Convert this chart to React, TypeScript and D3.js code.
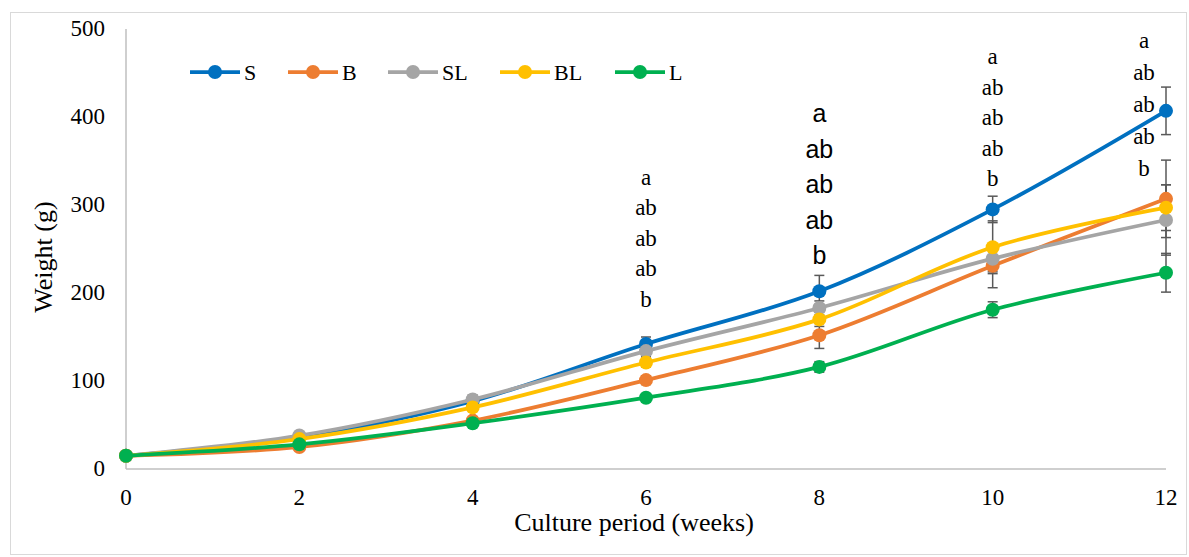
import React, { useEffect, useRef } from 'react';
import * as d3 from 'd3';

const weeks = [0, 2, 4, 6, 8, 10, 12];
const seriesNames = ['S', 'B', 'SL', 'BL', 'L'];
const seriesColors = ['#0070C0', '#ED7D31', '#A5A5A5', '#FFC000', '#00B050'];
const sValues = [15, 36, 77, 142, 202, 295, 407];
const bValues = [15, 25, 55, 101, 152, 231, 307];
const slValues = [15, 38, 79, 134, 183, 239, 283];
const blValues = [15, 34, 70, 121, 170, 252, 297];
const lValues = [15, 28, 52, 81, 116, 181, 223];
const sErr = [0, 2, 3, 8, 18, 15, 27];
const bErr = [0, 2, 3, 5, 15, 25, 44];
const slErr = [0, 3, 5, 6, 8, 15, 40];
const blErr = [0, 2, 4, 5, 8, 30, 26];
const lErr = [0, 2, 3, 4, 6, 9, 22];
const yTicks = [0, 100, 200, 300, 400, 500];

// significance letters per week (top to bottom)
const letterWeeks = [6, 8, 10, 12];
const letterSets = [
  ['a', 'ab', 'ab', 'ab', 'b'],
  ['a', 'ab', 'ab', 'ab', 'b'],
  ['a', 'ab', 'ab', 'ab', 'b'],
  ['a', 'ab', 'ab', 'ab', 'b'],
];
const letterTopValues = [332, 404, 469, 488];

const App = () => {
  const ref = useRef<SVGSVGElement>(null);

  useEffect(() => {
    const svg = d3.select(ref.current);
    svg.selectAll('*').remove();

    const left = 126;
    const right = 1166;
    const top = 29;
    const bottom = 469;

    const x = d3.scaleLinear().domain([0, 12]).range([left, right]);
    const y = d3.scaleLinear().domain([0, 500]).range([bottom, top]);

    const serif = '"Liberation Serif", "Times New Roman", serif';

    // outer border
    svg
      .append('rect')
      .attr('x', 10.5)
      .attr('y', 12.5)
      .attr('width', 1176)
      .attr('height', 542)
      .attr('fill', 'white')
      .attr('stroke', '#d9d9d9');

    // axes lines
    svg
      .append('line')
      .attr('x1', left)
      .attr('x2', left)
      .attr('y1', top)
      .attr('y2', bottom)
      .attr('stroke', '#bfbfbf')
      .attr('stroke-width', 1.5);
    svg
      .append('line')
      .attr('x1', left)
      .attr('x2', right)
      .attr('y1', bottom)
      .attr('y2', bottom)
      .attr('stroke', '#bfbfbf')
      .attr('stroke-width', 1.5);

    // tick labels
    svg
      .selectAll('.ytick')
      .data(yTicks)
      .enter()
      .append('text')
      .attr('x', 105)
      .attr('y', (d) => y(d) + 7)
      .attr('text-anchor', 'end')
      .style('font-family', serif)
      .style('font-size', '23px')
      .text((d) => d);

    svg
      .selectAll('.xtick')
      .data(weeks)
      .enter()
      .append('text')
      .attr('x', (d) => x(d))
      .attr('y', 505)
      .attr('text-anchor', 'middle')
      .style('font-family', serif)
      .style('font-size', '23px')
      .text((d) => d);

    svg
      .append('text')
      .attr('x', 634)
      .attr('y', 531)
      .attr('text-anchor', 'middle')
      .style('font-family', serif)
      .style('font-size', '26px')
      .text('Culture period (weeks)');

    svg
      .append('text')
      .attr('transform', `translate(52, 257) rotate(-90)`)
      .attr('text-anchor', 'middle')
      .style('font-family', serif)
      .style('font-size', '26px')
      .text('Weight (g)');

    const values = [sValues, bValues, slValues, blValues, lValues];
    const errors = [sErr, bErr, slErr, blErr, lErr];

    // error bars
    values.forEach((vals, si) => {
      vals.forEach((v, i) => {
        const e = errors[si][i];
        if (e <= 0) return;
        const cx = x(weeks[i]);
        const g = svg.append('g').attr('stroke', '#595959').attr('stroke-width', 1.5);
        g.append('line').attr('x1', cx).attr('x2', cx).attr('y1', y(v - e)).attr('y2', y(v + e));
        g.append('line').attr('x1', cx - 5).attr('x2', cx + 5).attr('y1', y(v - e)).attr('y2', y(v - e));
        g.append('line').attr('x1', cx - 5).attr('x2', cx + 5).attr('y1', y(v + e)).attr('y2', y(v + e));
      });
    });

    const line = d3
      .line<number>()
      .x((d, i) => x(weeks[i]))
      .y((d) => y(d))
      .curve(d3.curveCatmullRom.alpha(0.5));

    values.forEach((vals, si) => {
      svg
        .append('path')
        .attr('d', line(vals))
        .attr('fill', 'none')
        .attr('stroke', seriesColors[si])
        .attr('stroke-width', 3.75);
      svg
        .selectAll(null)
        .data(vals)
        .enter()
        .append('circle')
        .attr('cx', (d, i) => x(weeks[i]))
        .attr('cy', (d) => y(d))
        .attr('r', 7)
        .attr('fill', seriesColors[si]);
    });

    // legend
    const legendX = [190, 288, 388, 500, 615];
    const legendY = 72;
    seriesNames.forEach((name, i) => {
      const lx = legendX[i];
      svg
        .append('line')
        .attr('x1', lx)
        .attr('x2', lx + 50)
        .attr('y1', legendY)
        .attr('y2', legendY)
        .attr('stroke', seriesColors[i])
        .attr('stroke-width', 3.75);
      svg
        .append('circle')
        .attr('cx', lx + 25)
        .attr('cy', legendY)
        .attr('r', 7)
        .attr('fill', seriesColors[i]);
      svg
        .append('text')
        .attr('x', lx + 54)
        .attr('y', legendY + 8)
        .style('font-family', serif)
        .style('font-size', '22px')
        .text(name);
    });

    // significance letters
    letterWeeks.forEach((w, wi) => {
      const isSans = w === 8;
      const spacing = isSans ? 35.5 : w === 12 ? 32 : 30.5;
      const cx = w === 12 ? x(w) - 22 : x(w);
      letterSets[wi].forEach((t, li) => {
        svg
          .append('text')
          .attr('x', cx)
          .attr('y', y(letterTopValues[wi]) + li * spacing)
          .attr('dy', '0.35em')
          .attr('text-anchor', 'middle')
          .style('font-family', isSans ? '"Liberation Sans", Arial, sans-serif' : serif)
          .style('font-size', isSans ? '25px' : '23px')
          .text(t);
      });
    });
  }, []);

  return (
    <svg
      ref={ref}
      width={1189}
      height={557}
      style={{ position: 'absolute', left: 0, top: 0, background: 'white' }}
    />
  );
};

export default App;
